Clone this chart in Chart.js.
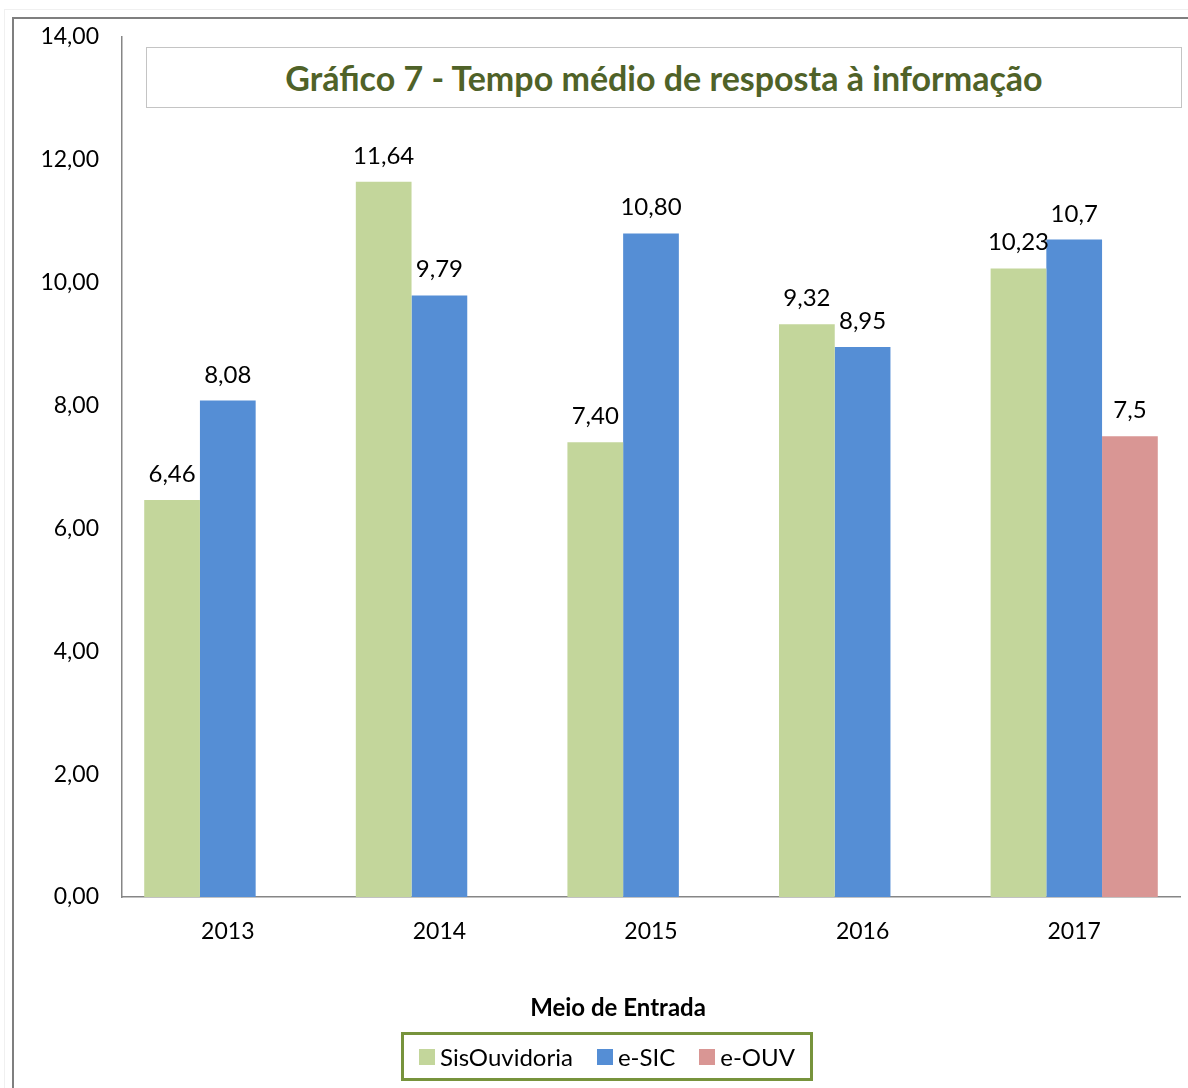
<!DOCTYPE html>
<html>
<head>
<meta charset="utf-8">
<script src="https://cdn.jsdelivr.net/npm/chart.js@4/dist/chart.umd.min.js"></script>
<style>
  html, body { margin: 0; padding: 0; background: #fff; }
  #wrap { position: relative; width: 1188px; height: 1088px; overflow: hidden; font-family: Lato, "Open Sans", sans-serif; }
  #frame { position: absolute; left: 12px; top: 17px; width: 1200px; height: 1100px; border-left: 2px solid #7f7f7f; border-top: 2px solid #7f7f7f; box-sizing: border-box; }
  #outer { position: absolute; left: 4px; top: 9px; width: 1200px; height: 1100px; border-left: 1px solid #f0f0f0; border-top: 1px solid #f0f0f0; }
  canvas { position: absolute; left: 0; top: 0; }
  #titlebox { position: absolute; left: 146px; top: 47px; width: 1036px; height: 61px; border: 1px solid #c4c4c4; box-sizing: border-box; background: #fff;
    display: flex; align-items: center; justify-content: center; color: #4f6228; font-weight: bold; font-size: 34px; }
  #axistitle { position: absolute; left: 418px; width: 400px; top: 992px; text-align: center; font-weight: bold; font-size: 24px; color: #000; }
  #legend { position: absolute; left: 401px; top: 1032px; width: 412px; height: 49px; border: 3px solid #77933c; box-sizing: border-box;
    display: flex; align-items: center; justify-content: center; font-size: 24px; color: #000; }
  .li { display: flex; align-items: center; margin: 0 12px; }
  .sw { width: 16px; height: 16px; margin-right: 5px; }
</style>
</head>
<body>
<div id="wrap">
  <div id="outer"></div>
  <div id="frame"></div>
  <canvas id="c" width="1188" height="1088"></canvas>
  <div id="titlebox"></div>
  <div id="axistitle"></div>
  <div id="legend"></div>
</div>
<script>
const chartTitle = "Gráfico 7 - Tempo médio de resposta à informação";
const axisTitle = "Meio de Entrada";
const categories = ["2013", "2014", "2015", "2016", "2017"];
const seriesNames = ["SisOuvidoria", "e-SIC", "e-OUV"];
const sisOuvidoria = [6.46, 11.64, 7.40, 9.32, 10.23];
const eSIC = [8.08, 9.79, 10.80, 8.95, 10.7];
const eOUV = [null, null, null, null, 7.5];
const sisOuvidoriaLabels = ["6,46", "11,64", "7,40", "9,32", "10,23"];
const eSICLabels = ["8,08", "9,79", "10,80", "8,95", "10,7"];
const eOUVLabels = [null, null, null, null, "7,5"];
const yTicks = [0, 2, 4, 6, 8, 10, 12, 14];
const colors = ["#c3d69b", "#558ed5", "#d99694"];

document.getElementById('titlebox').textContent = chartTitle;
document.getElementById('axistitle').textContent = axisTitle;
const legendEl = document.getElementById('legend');
seriesNames.forEach((n, i) => {
  const li = document.createElement('div'); li.className = 'li';
  const sw = document.createElement('div'); sw.className = 'sw'; sw.style.background = colors[i];
  const t = document.createElement('span'); t.textContent = n;
  li.appendChild(sw); li.appendChild(t); legendEl.appendChild(li);
});

const allLabels = [sisOuvidoriaLabels, eSICLabels, eOUVLabels];

const valueLabels = {
  id: 'valueLabels',
  afterDatasetsDraw(chart) {
    const ctx = chart.ctx;
    ctx.save();
    ctx.font = '24px Lato, "Open Sans", sans-serif';
    ctx.fillStyle = '#000';
    ctx.textAlign = 'center';
    ctx.textBaseline = 'alphabetic';
    chart.data.datasets.forEach((ds, di) => {
      const meta = chart.getDatasetMeta(di);
      meta.data.forEach((bar, i) => {
        const lbl = allLabels[di][i];
        if (lbl == null || ds.data[i] == null) return;
        ctx.fillText(lbl, bar.x, bar.y - 18);
      });
    });
    ctx.restore();
  }
};

new Chart(document.getElementById('c'), {
  type: 'bar',
  data: {
    labels: categories,
    datasets: [
      { label: seriesNames[0], data: sisOuvidoria, backgroundColor: colors[0] },
      { label: seriesNames[1], data: eSIC, backgroundColor: colors[1] },
      { label: seriesNames[2], data: eOUV, backgroundColor: colors[2] }
    ]
  },
  options: {
    responsive: false,
    animation: false,
    events: [],
    layout: { padding: { left: 0, right: 8, top: 35, bottom: 0 } },
    datasets: { bar: { categoryPercentage: 0.79, barPercentage: 1.0 } },
    plugins: { legend: { display: false }, title: { display: false }, tooltip: { enabled: false } },
    scales: {
      x: {
        grid: { display: false, drawTicks: false },
        border: { display: true, color: '#868686', width: 1.5 },
        ticks: { color: '#000', font: { family: 'Lato, "Open Sans", sans-serif', size: 23 }, padding: 21 },
        afterFit(scale) { scale.height = 1088 - 897; }
      },
      y: {
        min: 0, max: 14,
        afterBuildTicks(scale) { scale.ticks = yTicks.map(v => ({ value: v })); },
        grid: { display: false, drawTicks: false },
        border: { display: true, color: '#868686', width: 1.5 },
        ticks: {
          color: '#000', font: { family: 'Lato, "Open Sans", sans-serif', size: 23 }, padding: 23,
          callback: v => v.toFixed(2).replace('.', ',')
        },
        afterFit(scale) { scale.width = 122; }
      }
    }
  },
  plugins: [valueLabels]
});
</script>
</body>
</html>
